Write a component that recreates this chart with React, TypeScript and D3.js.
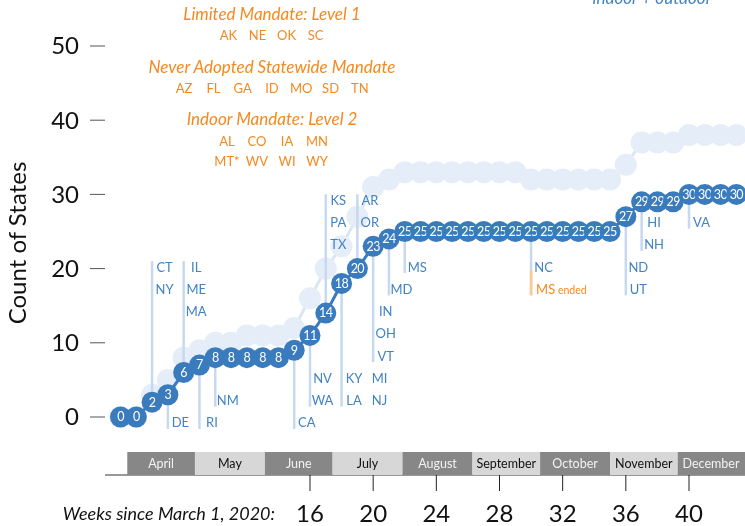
import React from 'react';
import * as d3 from 'd3';

// weeks since March 1, 2020
const weeks = [
  4, 5, 6, 7, 8, 9, 10, 11, 12, 13, 14, 15, 16, 17, 18, 19, 20, 21, 22, 23,
  24, 25, 26, 27, 28, 29, 30, 31, 32, 33, 34, 35, 36, 37, 38, 39, 40, 41, 42, 43,
];

// statewide indoor + outdoor mandates (dark series)
const fullCounts = [
  0, 0, 2, 3, 6, 7, 8, 8, 8, 8, 8, 9, 11, 14, 18, 20, 23, 24, 25, 25,
  25, 25, 25, 25, 25, 25, 25, 25, 25, 25, 25, 25, 27, 29, 29, 29, 30, 30, 30, 30,
];

// all mandates incl. indoor-only / limited (light series)
const anyCounts = [
  0, 0, 3, 5, 8, 9, 10, 10, 11, 11, 11, 12, 16, 20, 23, 27, 31, 32, 33, 33,
  33, 33, 33, 33, 33, 33, 32, 32, 32, 32, 32, 32, 34, 37, 37, 37, 38, 38, 38, 38,
];

const yTicks = [0, 10, 20, 30, 40, 50];
const xTicks = [16, 20, 24, 28, 32, 36, 40];
const monthNames = ['April', 'May', 'June', 'July', 'August', 'September', 'October', 'November', 'December'];

// annotation rows: label row k sits at count 3k - 0.8
type Label = { text: string; row: number; col?: number; ended?: boolean };
const annotations: { week: number; labels: Label[] }[] = [
  { week: 6, labels: [{ text: 'CT', row: 7 }, { text: 'NY', row: 6 }] },
  { week: 7, labels: [{ text: 'DE', row: 0 }] },
  { week: 8, labels: [{ text: 'IL', row: 7 }, { text: 'ME', row: 6 }, { text: 'MA', row: 5 }] },
  { week: 9, labels: [{ text: 'RI', row: 0 }] },
  { week: 10, labels: [{ text: 'NM', row: 1 }] },
  { week: 15, labels: [{ text: 'CA', row: 0 }] },
  { week: 16, labels: [{ text: 'NV', row: 2 }, { text: 'WA', row: 1 }] },
  { week: 17, labels: [{ text: 'KS', row: 10 }, { text: 'PA', row: 9 }, { text: 'TX', row: 8 }] },
  {
    week: 18,
    labels: [
      { text: 'KY', row: 2 }, { text: 'LA', row: 1 },
      { text: 'MI', row: 2, col: 1 }, { text: 'NJ', row: 1, col: 1 },
    ],
  },
  { week: 19, labels: [{ text: 'AR', row: 10 }, { text: 'OR', row: 9 }] },
  { week: 20, labels: [{ text: 'IN', row: 5 }, { text: 'OH', row: 4 }, { text: 'VT', row: 3 }] },
  { week: 21, labels: [{ text: 'MD', row: 6 }] },
  { week: 22, labels: [{ text: 'MS', row: 7 }] },
  { week: 30, labels: [{ text: 'NC', row: 7 }, { text: 'MS', row: 6, ended: true }] },
  { week: 36, labels: [{ text: 'ND', row: 7 }, { text: 'UT', row: 6 }] },
  { week: 37, labels: [{ text: 'HI', row: 9 }, { text: 'NH', row: 8 }] },
  { week: 40, labels: [{ text: 'VA', row: 9 }] },
];

const limitedStates = ['AK', 'NE', 'OK', 'SC'];
const neverStates = ['AZ', 'FL', 'GA', 'ID', 'MO', 'SD', 'TN'];
const indoorStates = [
  ['AL', 'CO', 'IA', 'MN'],
  ['MT*', 'WV', 'WI', 'WY'],
];

const BLUE = '#3a7bbd';
const LABEL_BLUE = '#4283c2';
const LIGHT = '#e4edf8';
const LIGHT_LINE = '#dbe6f4';
const STEM = '#c6d9ee';
const ORANGE = '#f5891f';
const FONT = "Lato, 'Open Sans', sans-serif";

const App: React.FC = () => {
  const x = d3.scaleLinear().domain([16, 40]).range([310, 689]);
  const y = d3.scaleLinear().domain([0, 50]).range([417, 46]);
  const rowY = (k: number) => y(3 * k - 0.8);

  const fullPts = weeks.map((w, i) => ({ w, v: fullCounts[i] }));
  const anyPts = weeks.map((w, i) => ({ w, v: anyCounts[i] }));
  const line = d3
    .line<{ w: number; v: number }>()
    .x((d) => x(d.w))
    .y((d) => y(d.v));

  const march1 = new Date(2020, 2, 1);
  const monthWeek = (i: number) => d3.timeDay.count(march1, new Date(2020, 3 + i, 1)) / 7;
  const barTop = 452;
  const barBottom = 475;

  const legendRow = (states: string[], cy: number, gap: number) =>
    states.map((s, i) => (
      <text key={s + cy} x={272 + (i - (states.length - 1) / 2) * gap} y={cy} dy="0.35em"
        textAnchor="middle" fontSize={13} fill={ORANGE}>{s}</text>
    ));

  return (
    <svg width={745} height={526} style={{ position: 'fixed', left: 0, top: 0 }} fontFamily={FONT}>
      {/* legend */}
      <text x={652} y={4} textAnchor="middle" fontSize={17} fontStyle="italic" fill={LABEL_BLUE}>indoor + outdoor</text>
      <text x={272} y={14} dy="0.35em" textAnchor="middle" fontSize={17} fontStyle="italic" fill={ORANGE}>Limited Mandate: Level 1</text>
      {legendRow(limitedStates, 35, 29)}
      <text x={272} y={67} dy="0.35em" textAnchor="middle" fontSize={17} fontStyle="italic" fill={ORANGE}>Never Adopted Statewide Mandate</text>
      {legendRow(neverStates, 88, 29.3)}
      <text x={272} y={119} dy="0.35em" textAnchor="middle" fontSize={17} fontStyle="italic" fill={ORANGE}>Indoor Mandate: Level 2</text>
      {legendRow(indoorStates[0], 141.5, 30)}
      {legendRow(indoorStates[1], 161.5, 30)}

      {/* y axis */}
      <text transform="translate(26,243) rotate(-90)" textAnchor="middle" fontSize={24} fill="#111">Count of States</text>
      {yTicks.map((t) => (
        <g key={t}>
          <line x1={90} x2={105} y1={y(t)} y2={y(t)} stroke="#555" strokeWidth={1} />
          <text x={79} y={y(t)} dy="0.35em" textAnchor="end" fontSize={24} fill="#111">{t}</text>
        </g>
      ))}

      {/* light series */}
      <path d={line(anyPts) ?? ''} fill="none" stroke={LIGHT_LINE} strokeWidth={3} />
      {anyPts.map((d) => (
        <circle key={'a' + d.w} cx={x(d.w)} cy={y(d.v)} r={11} fill={LIGHT} />
      ))}

      {/* annotation stems */}
      {annotations.map((a) => {
        const i = weeks.indexOf(a.week);
        const dotY = y(fullCounts[i]);
        const rows = a.labels.map((l) => l.row);
        const up = 3 * rows[0] - 0.8 > fullCounts[i];
        const endY = up ? rowY(d3.max(rows) as number) - 6 : rowY(d3.min(rows) as number) + 6;
        const ended = a.labels.find((l) => l.ended);
        return (
          <g key={'s' + a.week}>
            <line x1={x(a.week)} x2={x(a.week)} y1={dotY} y2={endY} stroke={STEM} strokeWidth={2.5} />
            {ended && (
              <line x1={x(a.week)} x2={x(a.week)} y1={rowY(ended.row) - 19} y2={rowY(ended.row) + 6}
                stroke="#fcc990" strokeWidth={2.5} />
            )}
          </g>
        );
      })}

      {/* dark series */}
      <path d={line(fullPts) ?? ''} fill="none" stroke={BLUE} strokeWidth={3} />
      {fullPts.map((d) => (
        <g key={'f' + d.w}>
          <circle cx={x(d.w)} cy={y(d.v)} r={10.5} fill={BLUE} />
          <text x={x(d.w)} y={y(d.v)} dy="0.35em" textAnchor="middle" fontSize={12.5} letterSpacing={-0.5}
            fill="#fff">{d.v}</text>
        </g>
      ))}

      {/* annotation labels */}
      {annotations.map((a) =>
        a.labels.map((l) =>
          l.ended ? (
            <text key={a.week + l.text + 'e'} x={x(a.week) + 5} y={rowY(l.row)} dy="0.35em" fontSize={13} fill={ORANGE}>
              {l.text}
              <tspan fontSize={10.5}> ended</tspan>
            </text>
          ) : (
            <text key={a.week + l.text} x={x(a.week) + 12.5 + (l.col ?? 0) * 25.5} y={rowY(l.row)} dy="0.35em"
              textAnchor="middle" fontSize={13} fill={LABEL_BLUE}>{l.text}</text>
          )
        )
      )}

      {/* month bar */}
      <line x1={105} x2={745} y1={barBottom} y2={barBottom} stroke="#333" strokeWidth={1} />
      {monthNames.map((m, i) => {
        const x0 = x(monthWeek(i));
        const x1 = x(monthWeek(i + 1));
        const dark = i % 2 === 0;
        return (
          <g key={m}>
            <rect x={x0} y={barTop} width={x1 - x0} height={barBottom - barTop} fill={dark ? '#878787' : '#d7d7d7'} />
            <text x={Math.min((x0 + x1) / 2, 711)} y={(barTop + barBottom) / 2} dy="0.35em" textAnchor="middle"
              fontSize={12.5} fill={dark ? '#f2f2f2' : '#111'}>{m}</text>
          </g>
        );
      })}

      {/* x axis */}
      {xTicks.map((t) => (
        <g key={t}>
          <line x1={x(t)} x2={x(t)} y1={barBottom} y2={491} stroke="#222" strokeWidth={1} />
          <text x={x(t)} y={522} textAnchor="middle" fontSize={24} fill="#111">{t}</text>
        </g>
      ))}
      <text x={275} y={520} textAnchor="end" fontSize={18} fontStyle="italic" fill="#111">Weeks since March 1, 2020:</text>
    </svg>
  );
};

export default App;
